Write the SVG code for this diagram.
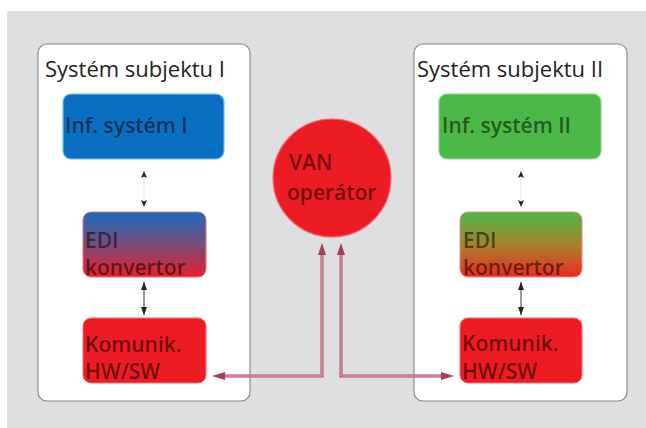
<svg xmlns="http://www.w3.org/2000/svg" width="646" height="428" viewBox="0 0 646 428">
  <style>
    .panel { fill: #ffffff; stroke: #8a8a8a; stroke-width: 1.2; }
    .title { font-family: "Open Sans", "Noto Sans", sans-serif; font-size: 22px; fill: #231f20; }
    .lbl { font-family: "Open Sans", "Noto Sans", sans-serif; font-size: 21px; font-weight: 600; fill: #000000; fill-opacity: 0.55; }
    .conn-out { stroke: #b04a60; stroke-width: 3; fill: none; }
    .conn-in { stroke: #eab0bb; stroke-width: 1; fill: none; }
  </style>
  <defs>
    <linearGradient id="gBlueRed" x1="0" y1="0" x2="0" y2="1">
      <stop offset="0" stop-color="#1a6cbc"/>
      <stop offset="0.5" stop-color="#7a4c7a"/>
      <stop offset="1" stop-color="#e8202a"/>
    </linearGradient>
    <linearGradient id="gGreenRed" x1="0" y1="0" x2="0" y2="1">
      <stop offset="0" stop-color="#4cb848"/>
      <stop offset="0.5" stop-color="#a6822e"/>
      <stop offset="1" stop-color="#ee2a22"/>
    </linearGradient>
  </defs>

  <rect x="0" y="0" width="646" height="428" fill="#ffffff"/>
  <rect x="7" y="11" width="639" height="417" fill="#dedfe0"/>

  <g id="panel-left">
    <rect class="panel" x="38" y="44" width="212" height="357" rx="9"/>
    <text class="title" x="45" y="77">Systém subjektu I</text>
  </g>
  <g id="panel-right">
    <rect class="panel" x="414" y="44" width="213" height="357" rx="9"/>
    <text class="title" x="417" y="77">Systém subjektu II</text>
  </g>

  <g id="inf1">
    <rect x="63" y="94" width="161" height="65" rx="8" fill="#0b6fc1" stroke="#6cc0ee" stroke-width="1.2"/>
    <text class="lbl" x="65" y="133">Inf. systém I</text>
  </g>
  <g id="edi1">
    <rect x="83" y="212" width="123" height="65" rx="8" fill="url(#gBlueRed)" stroke="#e8707a" stroke-width="1"/>
    <text class="lbl" x="85" y="248">EDI</text>
    <text class="lbl" x="85" y="275">konvertor</text>
  </g>
  <g id="kom1">
    <rect x="83" y="318" width="123" height="65" rx="8" fill="#ed1c24" stroke="#f07078" stroke-width="1"/>
    <text class="lbl" x="85" y="352">Komunik.</text>
    <text class="lbl" x="85" y="379">HW/SW</text>
  </g>

  <g id="inf2">
    <rect x="439" y="94" width="162" height="65" rx="8" fill="#4cb848" stroke="#8ad488" stroke-width="1.2"/>
    <text class="lbl" x="442" y="133">Inf. systém II</text>
  </g>
  <g id="edi2">
    <rect x="460" y="212" width="122" height="65" rx="8" fill="url(#gGreenRed)" stroke="#e8907a" stroke-width="1"/>
    <text class="lbl" x="463" y="248">EDI</text>
    <text class="lbl" x="463" y="275">konvertor</text>
  </g>
  <g id="kom2">
    <rect x="460" y="318" width="122" height="65" rx="8" fill="#ed1c24" stroke="#f07078" stroke-width="1"/>
    <text class="lbl" x="462" y="351">Komunik.</text>
    <text class="lbl" x="462" y="379">HW/SW</text>
  </g>

  <g id="van">
    <circle cx="332" cy="178" r="59" fill="#ec1c24" stroke="#f06a70" stroke-width="1.2"/>
    <text class="lbl" x="289" y="170">VAN</text>
    <text class="lbl" x="287" y="200">operátor</text>
  </g>

  <g id="connectors">
    <line x1="144" y1="171" x2="144" y2="208" stroke="#d8d8d8" stroke-width="0.6"/>
    <path d="M144,171 L141,178 L144,176.5 L147,178 Z" fill="#222"/>
    <path d="M144,207 L141,200 L144,201.5 L147,200 Z" fill="#222"/>
    <line x1="144" y1="282" x2="144" y2="315" stroke="#333" stroke-width="1"/>
    <path d="M144,282 L141,290 L147,290 Z" fill="#222"/>
    <path d="M144,315 L141,307 L147,307 Z" fill="#222"/>

    <line x1="521" y1="171" x2="521" y2="208" stroke="#d8d8d8" stroke-width="0.6"/>
    <path d="M521,171 L518,178 L521,176.5 L524,178 Z" fill="#222"/>
    <path d="M521,207 L518,200 L521,201.5 L524,200 Z" fill="#222"/>
    <line x1="521" y1="282" x2="521" y2="315" stroke="#333" stroke-width="1"/>
    <path d="M521,282 L518,290 L524,290 Z" fill="#222"/>
    <path d="M521,315 L518,307 L524,307 Z" fill="#222"/>

    <path class="conn-out" d="M322,253 L322,376 L224,376"/>
    <path class="conn-in" d="M322,253 L322,376 L224,376"/>
    <path class="conn-out" d="M341,253 L341,376 L443,376"/>
    <path class="conn-in" d="M341,253 L341,376 L443,376"/>
    <path d="M322,243 L318,255 L326,255 Z" fill="#a83c54"/>
    <path d="M341,243 L337,255 L345,255 Z" fill="#a83c54"/>
    <path d="M212,376 L225,372 L225,380 Z" fill="#a83c54"/>
    <path d="M454,376 L441,372 L441,380 Z" fill="#a83c54"/>
  </g>
</svg>
